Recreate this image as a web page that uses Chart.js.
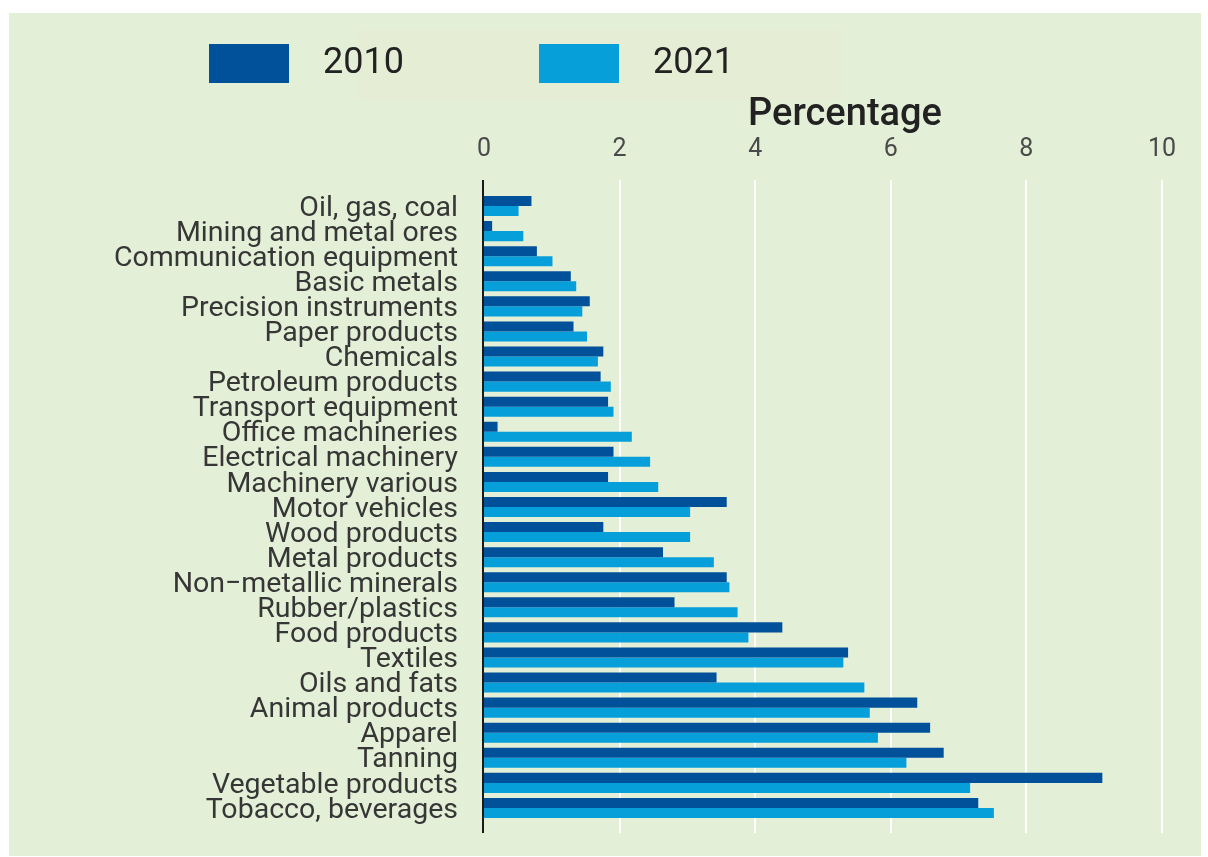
<!DOCTYPE html>
<html>
<head>
<meta charset="utf-8">
<script src="https://cdn.jsdelivr.net/npm/chart.js@4/dist/chart.umd.min.js"></script>
<style>
  body { margin: 0; background: #ffffff; }
  #panel { position: absolute; left: 9px; top: 13px; width: 1192px; height: 843px; background: #e3efd6; }
</style>
</head>
<body>
<div id="panel"><canvas id="tradeChart" width="1192" height="843"></canvas></div>
<script>
const categories = [
  "Oil, gas, coal", "Mining and metal ores", "Communication equipment", "Basic metals",
  "Precision instruments", "Paper products", "Chemicals", "Petroleum products",
  "Transport equipment", "Office machineries", "Electrical machinery", "Machinery various",
  "Motor vehicles", "Wood products", "Metal products", "Non−metallic minerals",
  "Rubber/plastics", "Food products", "Textiles", "Oils and fats", "Animal products",
  "Apparel", "Tanning", "Vegetable products", "Tobacco, beverages"
];
const values2010 = [0.70, 0.12, 0.78, 1.28, 1.56, 1.32, 1.76, 1.72, 1.83, 0.20, 1.91, 1.83,
  3.58, 1.76, 2.64, 3.58, 2.81, 4.40, 5.37, 3.43, 6.39, 6.58, 6.78, 9.12, 7.29];
const values2021 = [0.51, 0.58, 1.01, 1.36, 1.45, 1.52, 1.68, 1.87, 1.91, 2.18, 2.45, 2.57,
  3.04, 3.04, 3.39, 3.62, 3.74, 3.90, 5.30, 5.61, 5.69, 5.81, 6.23, 7.17, 7.52];
const xTicks = [0, 2, 4, 6, 8, 10];
const axisTitle = "Percentage";

const FONT = "Roboto";

// grid lines, axis line, legend and axis title drawn by hand
const extras = {
  id: "extras",
  beforeDraw(chart) {
    const ctx = chart.ctx;
    ctx.save();
    ctx.fillStyle = "#e6edd5";
    ctx.fillRect(347, 17, 486, 70);
    ctx.restore();
  },
  beforeDatasetsDraw(chart) {
    const {ctx, chartArea, scales: {x}} = chart;
    ctx.save();
    ctx.lineWidth = 2;
    ctx.strokeStyle = "#ffffff";
    xTicks.forEach(v => {
      if (v === 0) return;
      const px = Math.round(x.getPixelForValue(v));
      ctx.beginPath();
      ctx.moveTo(px, chartArea.top - 13.5);
      ctx.lineTo(px, chartArea.bottom + 12.5);
      ctx.stroke();
    });
    ctx.restore();
  },
  afterDatasetsDraw(chart) {
    const {ctx, chartArea, scales: {x}} = chart;
    ctx.save();
    ctx.lineWidth = 2;
    ctx.strokeStyle = "#1a1a1a";
    const px = Math.round(x.getPixelForValue(0)) - 1;
    ctx.beginPath();
    ctx.moveTo(px, chartArea.top - 13.5);
    ctx.lineTo(px, chartArea.bottom + 12.5);
    ctx.stroke();

    // axis title
    ctx.fillStyle = "#222222";
    ctx.font = "500 38px " + FONT;
    ctx.textAlign = "center";
    ctx.textBaseline = "alphabetic";
    ctx.fillText(axisTitle, x.getPixelForValue(5) + 22, 112);

    // legend
    const boxX = [200, 530];
    chart.data.datasets.forEach((ds, i) => {
      ctx.fillStyle = ds.backgroundColor;
      ctx.fillRect(boxX[i], 31, 80, 39);
      ctx.fillStyle = "#222222";
      ctx.font = "36px " + FONT;
      ctx.textAlign = "left";
      ctx.fillText(ds.label, boxX[i] + 114, 60);
    });
    ctx.restore();
  }
};

new Chart(document.getElementById("tradeChart"), {
  type: "bar",
  data: {
    labels: categories,
    datasets: [
      { label: "2010", data: values2010, backgroundColor: "#00509a" },
      { label: "2021", data: values2021, backgroundColor: "#079fda" }
    ]
  },
  options: {
    indexAxis: "y",
    responsive: false,
    animation: false,
    layout: { padding: { top: 0, left: 0, right: 39, bottom: 35.5 } },
    datasets: { bar: { categoryPercentage: 0.8, barPercentage: 1.0 } },
    plugins: { legend: { display: false }, tooltip: { enabled: false } },
    scales: {
      x: {
        position: "top",
        min: 0,
        max: 10,
        afterBuildTicks: scale => { scale.ticks = xTicks.map(v => ({ value: v })); },
        afterFit: scale => {
          scale.height = 180.5;
          scale.paddingLeft = 0;
          scale.paddingRight = 0;
        },
        grid: { display: false, drawTicks: false },
        border: { display: false },
        ticks: { padding: 29, color: "#4a4a4a", font: { family: FONT, size: 25 } }
      },
      y: {
        afterFit: scale => {
          scale.width = 475;
          scale.paddingTop = 0;
          scale.paddingBottom = 0;
        },
        grid: { display: false, drawTicks: false },
        border: { display: false },
        ticks: { autoSkip: false, padding: 26, labelOffset: 2.5, color: "#363636", font: { family: FONT, size: 28.5 } }
      }
    }
  },
  plugins: [extras]
});
</script>
</body>
</html>
